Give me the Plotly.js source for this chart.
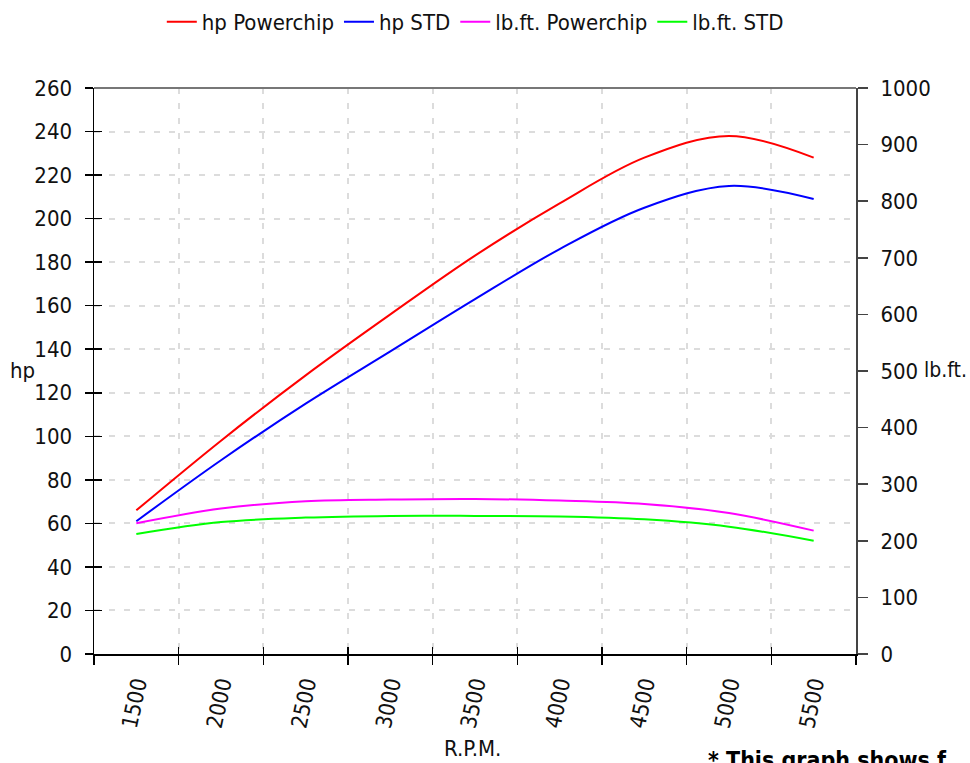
<!DOCTYPE html>
<html>
<head>
<meta charset="utf-8">
<script src="https://cdn.plot.ly/plotly-3.0.1.min.js"></script>
<style>html,body{margin:0;padding:0;background:#fff;}#chart{width:970px;height:763px;}</style>
</head>
<body>
<div id="chart"></div>
<script>
const rpm = [1500, 2000, 2500, 3000, 3500, 4000, 4500, 5000, 5500];
const rpmLabels = ['1500', '2000', '2500', '3000', '3500', '4000', '4500', '5000', '5500'];
const hpPowerchip = [66, 98, 128, 156, 183, 207, 228, 238, 228];
const hpStd = [61, 89, 115, 139, 163, 186, 205, 215, 209];
const lbftPowerchip = [231, 257, 270, 273, 274, 271, 265, 249, 218];
const lbftStd = [212, 233, 241, 244, 244, 243, 238, 225, 200];
const hpTicks = [0, 20, 40, 60, 80, 100, 120, 140, 160, 180, 200, 220, 240, 260];
const lbftTicks = [0, 100, 200, 300, 400, 500, 600, 700, 800, 900, 1000];
const boundaries = [1250, 1750, 2250, 2750, 3250, 3750, 4250, 4750, 5250, 5750];

const FONT = '"DejaVu Sans Condensed", "Liberation Sans Narrow", "Roboto", sans-serif';
const L = 94, R = 856, T = 88, B = 654, W = 970, H = 763;
const px = x => (x - L) / (R - L);
const py = y => (B - y) / (B - T);

const lineStyle = c => ({color: c, width: 2, shape: 'spline', smoothing: 1});
const traces = [
  {x: rpm, y: hpPowerchip, name: 'hp Powerchip', type: 'scatter', mode: 'lines', line: lineStyle('#ff0000'), xaxis: 'x', yaxis: 'y'},
  {x: rpm, y: hpStd, name: 'hp STD', type: 'scatter', mode: 'lines', line: lineStyle('#0000ff'), xaxis: 'x', yaxis: 'y'},
  {x: rpm, y: lbftPowerchip, name: 'lb.ft. Powerchip', type: 'scatter', mode: 'lines', line: lineStyle('#ff00ff'), xaxis: 'x', yaxis: 'y2'},
  {x: rpm, y: lbftStd, name: 'lb.ft. STD', type: 'scatter', mode: 'lines', line: lineStyle('#00ff00'), xaxis: 'x', yaxis: 'y2'}
];

const gridCol = '#dcdcdc';
const layout = {
  width: W, height: H,
  margin: {l: L, r: W - R, t: T, b: H - B, pad: 0, autoexpand: false},
  paper_bgcolor: '#ffffff', plot_bgcolor: '#ffffff',
  font: {family: FONT, size: 22, color: '#111111'},
  showlegend: true,
  legend: {orientation: 'h', xref: 'container', yref: 'container', x: 0.49, xanchor: 'center',
           y: 1 - 22 / H, yanchor: 'middle',
           font: {family: FONT, size: 22, color: '#111111'}, itemwidth: 30, tracegroupgap: 0},
  xaxis: {range: [1250, 5750], tickmode: 'array', tickvals: boundaries, ticktext: boundaries.map(() => ''),
          ticks: 'outside', ticklen: 9, tickwidth: 1.5, tickcolor: '#000',
          showline: true, linecolor: '#000', linewidth: 1.5,
          showgrid: true, gridcolor: gridCol, gridwidth: 2, griddash: '6px,9px',
          zeroline: false, fixedrange: true, automargin: false},
  xaxis2: {overlaying: 'x', anchor: 'y', side: 'bottom', range: [1250, 5750], tickmode: 'array',
           tickvals: rpm, ticktext: rpmLabels, tickangle: -78, ticks: '', showline: false,
           showgrid: false, zeroline: false, ticklabelstandoff: 12, automargin: false,
           tickfont: {family: FONT, size: 22, color: '#111111'}},
  xaxis3: {overlaying: 'x', anchor: 'y', side: 'bottom', range: [1250, 5750], tickmode: 'array',
           tickvals: boundaries, ticks: 'inside', ticklen: 7, tickwidth: 1.5, tickcolor: '#000',
           showticklabels: false, showline: false, showgrid: false, zeroline: false, automargin: false},
  yaxis: {range: [0, 260], tickmode: 'array', tickvals: hpTicks, ticks: 'outside', ticklen: 8,
          tickwidth: 1.5, tickcolor: '#000', showline: true, linecolor: '#000', linewidth: 1.5,
          showgrid: true, gridcolor: gridCol, gridwidth: 2, griddash: '6px,9px', zeroline: false,
          ticklabelstandoff: 8, automargin: false, tickfont: {family: FONT, size: 22, color: '#111111'}},
  yaxis3: {overlaying: 'y', anchor: 'x', side: 'left', range: [0, 260], tickmode: 'array', tickvals: hpTicks,
           ticks: 'inside', ticklen: 8, tickwidth: 1.5, tickcolor: '#000', showticklabels: false,
           showline: false, showgrid: false, zeroline: false, automargin: false},
  yaxis2: {overlaying: 'y', anchor: 'x', side: 'right', range: [0, 1000], tickmode: 'array', tickvals: lbftTicks,
           ticks: 'outside', ticklen: 10, tickwidth: 1.5, tickcolor: '#444', showline: true, linecolor: '#444',
           linewidth: 2, showgrid: false, zeroline: false, ticklabelstandoff: 8, automargin: false,
           tickfont: {family: FONT, size: 22, color: '#111111'}},
  shapes: [
    {type: 'line', xref: 'paper', yref: 'paper', x0: 0, x1: 1, y0: 1, y1: 1, line: {color: '#777', width: 2}}
  ],
  annotations: [
    {text: 'hp', xref: 'paper', yref: 'paper', x: px(22), y: py(370), xanchor: 'center', yanchor: 'middle', showarrow: false,
     font: {family: FONT, size: 22, color: '#111111'}},
    {text: 'lb.ft.', xref: 'paper', yref: 'paper', x: px(945), y: py(370), xanchor: 'center', yanchor: 'middle', showarrow: false,
     font: {family: FONT, size: 21, color: '#111111'}},
    {text: 'R.P.M.', xref: 'paper', yref: 'paper', x: px(472), y: py(748), xanchor: 'center', yanchor: 'middle', showarrow: false,
     font: {family: FONT, size: 22, color: '#111111'}},
    {text: '<b>* This graph shows f</b>', xref: 'paper', yref: 'paper', x: px(706), y: py(745), xanchor: 'left', yanchor: 'top', showarrow: false,
     font: {family: FONT, size: 23, color: '#000000'}}
  ]
};

// invisible helper traces so overlay axes are drawn
traces.push({x: [1250], y: [0], xaxis: 'x2', yaxis: 'y', mode: 'markers', marker: {opacity: 0}, showlegend: false, hoverinfo: 'skip'});
traces.push({x: [1250], y: [0], xaxis: 'x3', yaxis: 'y3', mode: 'markers', marker: {opacity: 0}, showlegend: false, hoverinfo: 'skip'});

Plotly.newPlot('chart', traces, layout, {displayModeBar: false, staticPlot: true});
</script>
</body>
</html>
